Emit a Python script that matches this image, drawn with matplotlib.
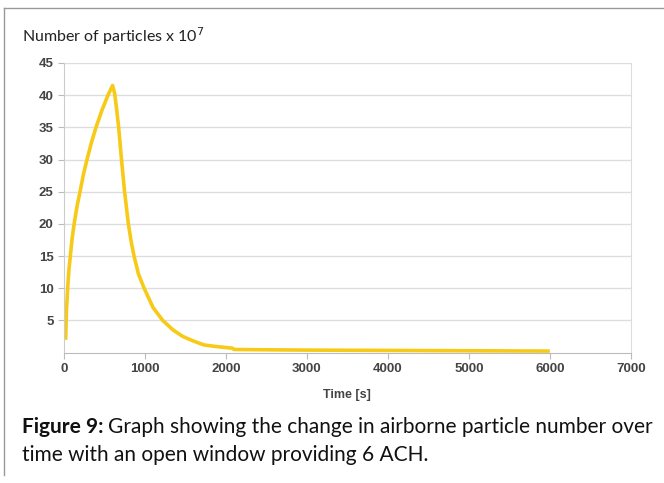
import matplotlib
matplotlib.use("Agg")
import matplotlib.pyplot as plt
from matplotlib.lines import Line2D

# particle count (x 10^7) vs time
time_s = [20, 30, 45, 60, 78, 100, 125, 160, 198, 240, 284, 340, 395, 470,
          543, 600, 625, 650, 675, 710, 748, 795, 830, 865, 920, 990, 1100,
          1220, 1350, 1470, 1600, 1730, 1850, 2000, 2080, 2100, 2500, 3000,
          4000, 5000, 6000]
particles = [2.0, 6.5, 10.0, 12.8, 15.0, 17.7, 20.0, 22.7, 25.0, 27.7, 30.0,
             32.7, 35.0, 37.7, 40.0, 41.5, 40.3, 37.8, 35.0, 30.0, 25.0, 20.0,
             17.2, 15.0, 12.2, 10.0, 7.0, 5.0, 3.5, 2.5, 1.8, 1.2, 1.0, 0.8,
             0.7, 0.5, 0.45, 0.4, 0.35, 0.3, 0.25]

xticks = [0, 1000, 2000, 3000, 4000, 5000, 6000, 7000]
yticks = [5, 10, 15, 20, 25, 30, 35, 40, 45]

YELLOW = "#F7CA18"
GRID = "#DDDDDD"
TICKC = "#444444"

fig = plt.figure(figsize=(6.64, 4.83), dpi=100)
ax = fig.add_axes([0.0964, 0.2698, 0.8536, 0.5998])

ax.plot(time_s, particles, color=YELLOW, linewidth=2.6, solid_capstyle="butt",
        solid_joinstyle="round")

ax.set_xlim(0, 7000)
ax.set_ylim(0, 45)
ax.set_xticks(xticks)
ax.set_yticks(yticks)
ax.tick_params(axis="both", colors="#BBBBBB", labelcolor=TICKC, length=4,
               width=0.8, labelsize=9.5)
for lab in ax.get_xticklabels() + ax.get_yticklabels():
    lab.set_family("Liberation Sans")
    lab.set_fontweight("bold")
ax.grid(axis="y", color=GRID, linewidth=1)
ax.set_axisbelow(True)
ax.spines["top"].set_visible(False)
ax.spines["left"].set_color("#CCCCCC")
ax.spines["bottom"].set_color("#BBBBBB")
ax.spines["right"].set_color(GRID)
ax.set_xlabel("Time [s]", fontsize=9, color=TICKC, family="Liberation Sans",
              fontweight="bold", labelpad=10)

fig.text(0.033, 0.925, "Number of particles x 10$^{7}$", fontsize=11.5,
         family="Lato", color="#222222", va="center")

# caption: bold lead-in, then the rest right after it
t1 = fig.text(0.033, 0.115, "Figure 9:", fontsize=15, family="Lato",
              fontweight="bold", color="#111111", va="center")
fig.canvas.draw()
bb = t1.get_window_extent(renderer=fig.canvas.get_renderer())
x_next = (bb.x1 + 5) / fig.bbox.width
fig.text(x_next, 0.115, "Graph showing the change in airborne particle number over",
         fontsize=15, family="Lato", color="#111111", va="center")
fig.text(0.033, 0.058, "time with an open window providing 6 ACH.",
         fontsize=15, family="Lato", color="#111111", va="center")

# page frame lines
fig.add_artist(Line2D([0.006, 0.006], [0.017, 0.983], color="#999999",
                      linewidth=1, transform=fig.transFigure))
fig.add_artist(Line2D([0.006, 1.0], [0.983, 0.983], color="#999999",
                      linewidth=1, transform=fig.transFigure))

plt.savefig("out.png", dpi=100)
